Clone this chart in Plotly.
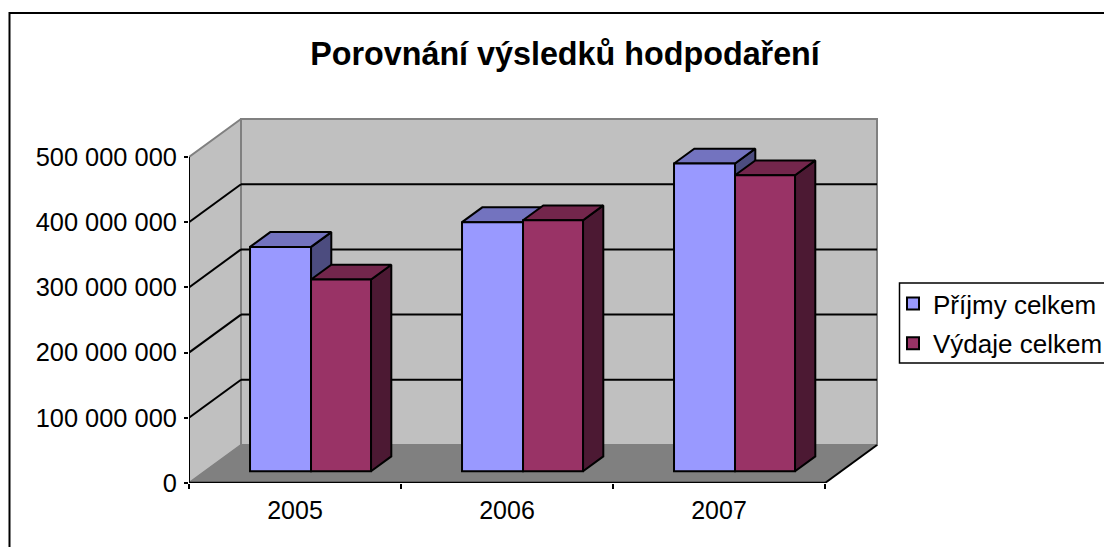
import plotly.graph_objects as go

# ---- data ----
YEARS = ["2005", "2006", "2007"]
INCOME = [344e6, 382e6, 472e6]
EXPENSE = [294e6, 385e6, 454e6]
Y_TICKS = [0, 100e6, 200e6, 300e6, 400e6, 500e6]
Y_LABELS = ["0", "100 000 000", "200 000 000", "300 000 000", "400 000 000", "500 000 000"]
INCOME_NAME = "Příjmy celkem"
EXPENSE_NAME = "Výdaje celkem"
TITLE = "Porovnání výsledků hodpodaření"

# ---- layout geometry (pixels) ----
W, H = 1104, 547
L, R, T, B = 189, 880, 116, 483
CAT_PX = 212.0
VAL_PX = 326.0 / 500e6
DEPTH_X = 52 / CAT_PX          # oblique depth in x units
DEPTH_Y = 38 / VAL_PX          # oblique depth in y units
BAR_FRONT, BAR_DEPTH = 0.31, 0.39
BAR_LEFT = 44.9 / CAT_PX
INCOME_W, EXPENSE_W = 61 / CAT_PX, 60 / CAT_PX
X_END = 3.0
WALL_TOP = 500e6
BLACK = "#000000"
GRAY = "#808080"
FONT = "Liberation Sans"


def P(x, v, d=0.0):
    return x + d * DEPTH_X, v + d * DEPTH_Y


def poly(points):
    xs, ys = zip(*points)
    return list(xs) + [xs[0], None], list(ys) + [ys[0], None]


def px_x(x):
    return (x - L) / (R - L)


def px_y(y):
    return (B - y) / (B - T)


fig = go.Figure()


def area(points, fill, line=BLACK, lw=2, z=0):
    x, y = poly(points)
    fig.add_trace(go.Scatter(x=x, y=y, mode="lines", fill="toself", fillcolor=fill,
                             line=dict(color=line, width=lw), showlegend=False,
                             hoverinfo="skip", cliponaxis=False, zorder=z))


def stroke(p0, p1, color=BLACK, lw=2, z=0):
    fig.add_trace(go.Scatter(x=[p0[0], p1[0]], y=[p0[1], p1[1]], mode="lines",
                             line=dict(color=color, width=lw), showlegend=False,
                             hoverinfo="skip", cliponaxis=False, zorder=z))


# walls
area([P(0, 0), P(0, WALL_TOP), P(0, WALL_TOP, 1), P(0, 0, 1)], "#C0C0C0", GRAY, 2)
area([P(0, 0, 1), P(0, WALL_TOP, 1), P(X_END, WALL_TOP, 1), P(X_END, 0, 1)], "#C0C0C0", GRAY, 2)
area([P(0, 0), P(X_END, 0), P(X_END, 0, 1), P(0, 0, 1)], "#808080", "#808080", 1)
stroke(P(X_END, 0), P(X_END, 0, 1))
for v in Y_TICKS[1:-1]:
    stroke(P(0, v), P(0, v, 1))
    stroke(P(0, v, 1), P(X_END, v, 1))


def bar_series(values, name, start, width, front, top, side, z):
    base = BAR_FRONT * DEPTH_Y
    centers = []
    for i, v in enumerate(values):
        x0 = i + start + BAR_FRONT * DEPTH_X
        x1 = x0 + width
        centers.append((x0 + x1) / 2)
        area([P(x1, base), P(x1, base, BAR_DEPTH), P(x1, base + v, BAR_DEPTH), P(x1, base + v)],
             side, z=z)
        area([P(x0, base + v), P(x1, base + v), P(x1, base + v, BAR_DEPTH), P(x0, base + v, BAR_DEPTH)],
             top, z=z)
    fig.add_trace(go.Bar(
        x=centers, y=values, base=base, width=width, name=name, legendgroup=name,
        marker=dict(color=front, line=dict(color=BLACK, width=2)),
        hoverinfo="skip", zorder=z + 1))


bar_series(INCOME, INCOME_NAME, BAR_LEFT, INCOME_W, "#9999FF", "#7373BF", "#4C4C7F", 1)
bar_series(EXPENSE, EXPENSE_NAME, BAR_LEFT + INCOME_W, EXPENSE_W, "#993366", "#73264C", "#4C1933", 3)

# front axis lines
stroke((0, 0), (0, WALL_TOP), lw=2, z=6)
stroke((0, 0), (X_END, 0), lw=2.5, z=6)

fig.update_layout(
    width=W, height=H, autosize=False,
    margin=dict(l=L, r=W - R, t=T, b=H - B, pad=0, autoexpand=False),
    paper_bgcolor="white", plot_bgcolor="rgba(0,0,0,0)",
    barmode="overlay",
    font=dict(family=FONT, size=25, color=BLACK),
    title=dict(text="<b>" + TITLE + "</b>", x=565 / W, xanchor="center", y=1 - 54 / H, yanchor="middle",
               font=dict(family=FONT, size=32.3, color=BLACK)),
    xaxis=dict(range=[0, (R - L) / CAT_PX], showgrid=False, zeroline=False, showline=False,
               tickmode="array", tickvals=[i + 0.5 for i in range(len(YEARS))], ticktext=YEARS, ticks="",
               ticklabelstandoff=10, tickfont=dict(family=FONT, size=25),
               minor=dict(tickmode="array", tickvals=list(range(len(YEARS) + 1)), ticks="outside",
                          ticklen=5, tickwidth=2, tickcolor=BLACK, showgrid=False)),
    yaxis=dict(range=[0, (B - T) / VAL_PX], showgrid=False, zeroline=False, showline=False,
               tickmode="array", tickvals=Y_TICKS, ticktext=Y_LABELS, ticks="outside",
               ticklen=4, tickwidth=2, tickcolor=BLACK, ticklabelstandoff=2,
               tickfont=dict(family=FONT, size=25.4)),
    legend=dict(x=px_x(893), xanchor="left", y=px_y(280), yanchor="top", bgcolor="rgba(0,0,0,0)",
                borderwidth=0, traceorder="grouped", tracegroupgap=3, font=dict(family=FONT, size=26),
                itemclick=False, itemdoubleclick=False),
    shapes=[
        dict(type="rect", xref="paper", yref="paper", x0=px_x(9.5), x1=px_x(1120), y0=px_y(13), y1=px_y(560),
             line=dict(color=BLACK, width=2), fillcolor="rgba(0,0,0,0)", layer="above"),
        dict(type="rect", xref="paper", yref="paper", x0=px_x(899.5), x1=px_x(1120), y0=px_y(283), y1=px_y(363),
             line=dict(color=BLACK, width=1.5), fillcolor="rgba(0,0,0,0)", layer="above"),
    ],
)

fig.write_html("out.html", post_script="document.body.style.margin='0';",
               config=dict(displayModeBar=False))
